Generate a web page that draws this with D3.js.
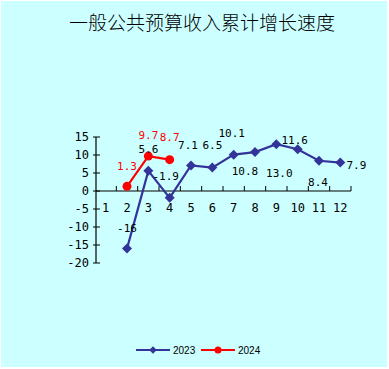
<!DOCTYPE html>
<html><head><meta charset="utf-8">
<script src="https://cdn.jsdelivr.net/npm/d3@7/dist/d3.min.js"></script>
<style>html,body{margin:0;padding:0;background:#fff;}svg{display:block;}</style>
</head><body>
<script>
const title = "一般公共预算收入累计增长速度";
const months = ["1","2","3","4","5","6","7","8","9","10","11","12"];
const series2023 = [null, -16, 5.6, -1.9, 7.1, 6.5, 10.1, 10.8, 13.0, 11.6, 8.4, 7.9];
const labels2023 = ["", "-16", "5.6", "-1.9", "7.1", "6.5", "10.1", "10.8", "13.0", "11.6", "8.4", "7.9"];
const series2024 = [null, 1.3, 9.7, 8.7, null, null, null, null, null, null, null, null];
const labels2024 = ["", "1.3", "9.7", "8.7", "", "", "", "", "", "", "", ""];
const yTicks = [-20, -15, -10, -5, 0, 5, 10, 15];
const seriesNames = ["2023", "2024"];

// label placement offsets (layout only)
const off2023 = [[0,0],[0,-20],[0,-21],[-4,-21],[-3,-20],[0,-22],[-2,-21],[-10,19],[3,29],[-3,-9],[-1,22],[16,3]];
const off2024 = [[0,0],[0,-20],[0,-21],[0,-22]];

const W = 389, H = 369;
const svg = d3.select("body").append("svg").attr("width", W).attr("height", H);
svg.append("rect").attr("x",1).attr("y",1).attr("width",386).attr("height",366).attr("fill","#ccffff");

svg.append("text").attr("x",202).attr("y",21).attr("text-anchor","middle").attr("dominant-baseline","central")
  .attr("font-family","'Noto Sans CJK SC', sans-serif").attr("font-weight",300).attr("font-size",19).attr("fill","#000").text(title);

const x = d3.scaleBand().domain(months).range([95, 351]).padding(0);
const y = d3.scaleLinear().domain([-20, 15]).range([263, 137]);
const cx = (i) => x(months[i]) + x.bandwidth()/2;

const tickFont = "'DejaVu Sans Mono', monospace";
const lblFont = "'DejaVu Sans Mono', monospace";

// y axis
const yAxis = svg.append("g");
yAxis.append("line").attr("x1",96).attr("x2",96).attr("y1",y(15)).attr("y2",y(-20)).attr("stroke","#000").attr("stroke-width",1.2);
yTicks.forEach(t => {
  yAxis.append("line").attr("x1",93).attr("x2",100).attr("y1",y(t)).attr("y2",y(t)).attr("stroke","#000");
  yAxis.append("text").attr("x",89).attr("y",y(t)).attr("text-anchor","end").attr("dominant-baseline","central")
    .attr("font-family",tickFont).attr("font-size",12).attr("fill","#000").text(t);
});

// x axis
const xAxis = svg.append("g");
xAxis.append("line").attr("x1",96).attr("x2",x.range()[1]).attr("y1",y(0)).attr("y2",y(0)).attr("stroke","#000").attr("stroke-width",1.2);
months.forEach((m,i) => {
  const bx = x(m) + x.bandwidth();
  xAxis.append("line").attr("x1",bx).attr("x2",bx).attr("y1",y(0)).attr("y2",y(0)-5).attr("stroke","#000");
  xAxis.append("text").attr("x",cx(i)).attr("y",y(0)+17).attr("text-anchor","middle").attr("dominant-baseline","central")
    .attr("font-family",tickFont).attr("font-size",12).attr("fill","#000").text(m);
});

function drawSeries(vals, color, marker) {
  const pts = vals.map((v,i)=>({v,i})).filter(d=>d.v!==null);
  const line = d3.line().x(d=>cx(d.i)).y(d=>y(d.v));
  svg.append("path").datum(pts).attr("d",line).attr("fill","none").attr("stroke",color).attr("stroke-width",2.2);
  if (marker === "diamond") {
    svg.selectAll(null).data(pts).enter().append("path")
      .attr("d", d3.symbol(d3.symbolSquare, 50)())
      .attr("transform", d=>`translate(${cx(d.i)},${y(d.v)}) rotate(45)`).attr("fill",color);
  } else {
    svg.selectAll(null).data(pts).enter().append("circle")
      .attr("cx",d=>cx(d.i)).attr("cy",d=>y(d.v)).attr("r",4.5).attr("fill",color);
  }
}
drawSeries(series2023, "#333399", "diamond");
drawSeries(series2024, "#ff0000", "circle");

function drawLabels(vals, labels, offs, color) {
  vals.forEach((v,i) => {
    if (v === null) return;
    svg.append("text").attr("x",cx(i)+offs[i][0]).attr("y",y(v)+offs[i][1])
      .attr("text-anchor","middle").attr("dominant-baseline","central")
      .attr("font-family",lblFont).attr("font-size",11).attr("fill",color).text(labels[i]);
  });
}
drawLabels(series2023, labels2023, off2023, "#000");
drawLabels(series2024, labels2024, off2024, "#ff0000");

// legend
const leg = svg.append("g");
const legItems = [{name:seriesNames[0], color:"#333399", m:"diamond", x0:136},{name:seriesNames[1], color:"#ff0000", m:"circle", x0:201}];
legItems.forEach(it => {
  leg.append("line").attr("x1",it.x0).attr("x2",it.x0+34).attr("y1",350).attr("y2",350).attr("stroke",it.color).attr("stroke-width",2);
  if (it.m==="diamond") leg.append("path").attr("d",d3.symbol(d3.symbolSquare,28)()).attr("transform",`translate(${it.x0+17},350) rotate(45)`).attr("fill",it.color);
  else leg.append("circle").attr("cx",it.x0+17).attr("cy",350).attr("r",3.5).attr("fill",it.color);
  leg.append("text").attr("x",it.x0+37).attr("y",350).attr("dominant-baseline","central")
    .attr("font-family","'Liberation Sans', Arial, sans-serif").attr("font-size",10).attr("fill","#000").text(it.name);
});
</script>
</body></html>
